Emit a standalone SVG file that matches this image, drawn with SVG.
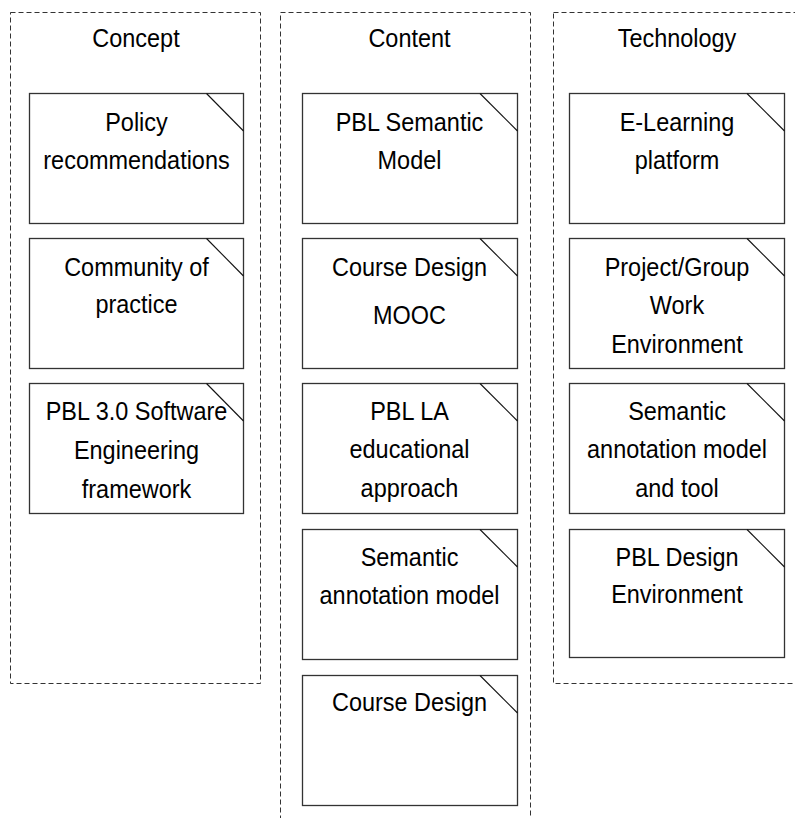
<svg xmlns="http://www.w3.org/2000/svg" width="795" height="818" viewBox="0 0 795 818">
<style>
.lane{fill:none;stroke:#333;stroke-width:1;stroke-dasharray:5,3}
.box{fill:#fff;stroke:#333;stroke-width:1.3}
.cut{stroke:#111;stroke-width:1.1}
text{font-family:"Liberation Sans",Arial,sans-serif;font-size:26.5px;fill:#000;text-anchor:middle}
</style>
<rect width="795" height="818" fill="#fff"/>
<g id="lanes">
<rect class="lane" x="10.5" y="12.5" width="250" height="671"/>
<rect class="lane" x="280.5" y="12.5" width="250" height="830"/>
<rect class="lane" x="553.5" y="12.5" width="260" height="671"/>
<text transform="translate(136,46.5) scale(0.885,1)">Concept</text>
<text transform="translate(409.5,46.5) scale(0.885,1)">Content</text>
<text transform="translate(677,46.5) scale(0.885,1)">Technology</text>
</g>
<g id="connectors"></g>
<g id="c1"><rect class="box" x="29.5" y="93.5" width="214" height="130"/><line class="cut" x1="206.5" y1="93.5" x2="243.5" y2="131"/>
<text transform="translate(136.5,131) scale(0.885,1)"><tspan x="0">Policy</tspan><tspan x="0" dy="38">recommendations</tspan></text></g>
<g id="c2"><rect class="box" x="29.5" y="238.5" width="214" height="130"/><line class="cut" x1="206.5" y1="238.5" x2="243.5" y2="276"/>
<text transform="translate(136.5,275.5) scale(0.885,1)"><tspan x="0">Community of</tspan><tspan x="0" dy="38">practice</tspan></text></g>
<g id="c3"><rect class="box" x="29.5" y="383.5" width="214" height="130"/><line class="cut" x1="206.5" y1="383.5" x2="243.5" y2="421"/>
<text transform="translate(136.5,420) scale(0.885,1)"><tspan x="0">PBL 3.0 Software</tspan><tspan x="0" dy="39">Engineering</tspan><tspan x="0" dy="39">framework</tspan></text></g>

<g id="m1"><rect class="box" x="302.5" y="93.5" width="215" height="130"/><line class="cut" x1="480" y1="93.5" x2="517.5" y2="131"/>
<text transform="translate(409.5,131) scale(0.885,1)"><tspan x="0">PBL Semantic</tspan><tspan x="0" dy="38">Model</tspan></text></g>
<g id="m2"><rect class="box" x="302.5" y="238.5" width="215" height="130"/><line class="cut" x1="480" y1="238.5" x2="517.5" y2="276"/>
<text transform="translate(409.5,275.5) scale(0.885,1)"><tspan x="0">Course Design</tspan><tspan x="0" dy="49">MOOC</tspan></text></g>
<g id="m3"><rect class="box" x="302.5" y="383.5" width="215" height="130"/><line class="cut" x1="480" y1="383.5" x2="517.5" y2="421"/>
<text transform="translate(409.5,419.5) scale(0.885,1)"><tspan x="0">PBL LA</tspan><tspan x="0" dy="39">educational</tspan><tspan x="0" dy="39">approach</tspan></text></g>
<g id="m4"><rect class="box" x="302.5" y="529.5" width="215" height="130"/><line class="cut" x1="480" y1="529.5" x2="517.5" y2="567"/>
<text transform="translate(409.5,565.5) scale(0.885,1)"><tspan x="0">Semantic</tspan><tspan x="0" dy="39">annotation model</tspan></text></g>
<g id="m5"><rect class="box" x="302.5" y="675.5" width="215" height="130"/><line class="cut" x1="480" y1="675.5" x2="517.5" y2="713"/>
<text transform="translate(409.5,710.5) scale(0.885,1)">Course Design</text></g>

<g id="t1"><rect class="box" x="569.5" y="93.5" width="215" height="130"/><line class="cut" x1="747" y1="93.5" x2="784.5" y2="131"/>
<text transform="translate(677,131) scale(0.885,1)"><tspan x="0">E-Learning</tspan><tspan x="0" dy="38">platform</tspan></text></g>
<g id="t2"><rect class="box" x="569.5" y="238.5" width="215" height="130"/><line class="cut" x1="747" y1="238.5" x2="784.5" y2="276"/>
<text transform="translate(677,275.5) scale(0.885,1)"><tspan x="0">Project/Group</tspan><tspan x="0" dy="39">Work</tspan><tspan x="0" dy="39">Environment</tspan></text></g>
<g id="t3"><rect class="box" x="569.5" y="383.5" width="215" height="130"/><line class="cut" x1="747" y1="383.5" x2="784.5" y2="421"/>
<text transform="translate(677,419.5) scale(0.885,1)"><tspan x="0">Semantic</tspan><tspan x="0" dy="39">annotation model</tspan><tspan x="0" dy="39">and tool</tspan></text></g>
<g id="t4"><rect class="box" x="569.5" y="529.5" width="215" height="128"/><line class="cut" x1="747" y1="529.5" x2="784.5" y2="567"/>
<text transform="translate(677,565.5) scale(0.885,1)"><tspan x="0">PBL Design</tspan><tspan x="0" dy="38">Environment</tspan></text></g>
</svg>
